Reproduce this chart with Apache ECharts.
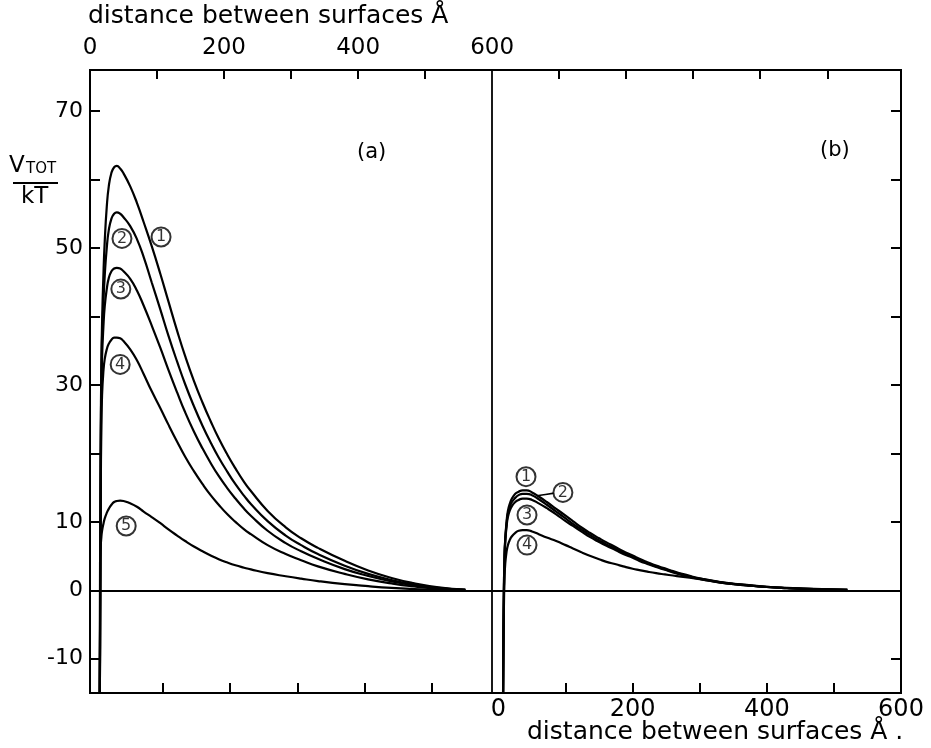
<!DOCTYPE html>
<html><head><meta charset="utf-8">
<script src="https://cdn.jsdelivr.net/npm/echarts@6/dist/echarts.min.js"></script>
<style>html,body{margin:0;padding:0;background:#fff}#c{width:931px;height:748px}</style>
</head><body><div id="c"></div>
<script>
// ---------- panel (a): distance (Å, top axis) ----------
const distA = [14, 15, 16, 17, 18, 20, 22, 25, 28, 32, 36, 40, 45, 50, 60, 70, 80, 92, 105, 117, 130, 142, 155, 168, 180, 192, 205, 217, 230, 240, 265, 292, 315, 340, 380, 415, 450, 480, 520, 560];
const a1 = [-30, -8, 22, 33, 39, 46, 51, 56, 59, 61, 61.8, 62, 61.6, 60.9, 59.0, 56.6, 53.8, 50.3, 46.2, 42.2, 37.9, 34.2, 30.6, 27.4, 24.7, 22.2, 19.8, 17.8, 15.8, 14.5, 11.6, 9.2, 7.6, 6.2, 4.3, 2.9, 1.8, 1.1, 0.45, 0.1];
const a2 = [-30, -8, 20, 31, 37, 42, 46, 50, 52.6, 54.3, 55, 55.2, 55.0, 54.5, 53.2, 51.3, 48.7, 45.0, 41.0, 37.2, 33.4, 30.1, 26.9, 24.0, 21.6, 19.4, 17.3, 15.5, 13.8, 12.6, 10.1, 8.0, 6.6, 5.3, 3.6, 2.4, 1.5, 0.9, 0.35, 0.07];
const a3 = [-30, -8, 18, 29, 34, 38.5, 41.5, 44, 45.6, 46.6, 47, 47.1, 47.0, 46.6, 45.5, 43.8, 41.6, 38.7, 35.4, 32.2, 28.9, 26.0, 23.2, 20.7, 18.6, 16.7, 14.9, 13.4, 11.9, 10.9, 8.7, 6.9, 5.7, 4.6, 3.1, 2.1, 1.3, 0.8, 0.3, 0.05];
const a4 = [-30, -6, 14, 24, 28.5, 32, 33.8, 35.2, 36, 36.6, 36.9, 36.9, 36.8, 36.4, 35.2, 33.6, 31.6, 29.1, 26.6, 24.2, 21.7, 19.5, 17.4, 15.5, 13.9, 12.5, 11.1, 10.0, 8.9, 8.2, 6.6, 5.3, 4.4, 3.5, 2.4, 1.6, 1.0, 0.6, 0.22, 0.04];
const a5 = [-30, 4, 6.5, 7.8, 8.7, 9.7, 10.5, 11.3, 11.9, 12.5, 12.9, 13.05, 13.1, 13.05, 12.7, 12.2, 11.5, 10.7, 9.8, 8.9, 8.0, 7.2, 6.4, 5.7, 5.1, 4.55, 4.05, 3.65, 3.3, 3.05, 2.5, 2.05, 1.7, 1.35, 0.9, 0.6, 0.35, 0.2, 0.07, 0.01];

// ---------- panel (b): distance (Å, bottom axis) ----------
const distB = [6, 7, 8, 9, 10, 12, 14, 17, 20, 25, 30, 36, 42, 50, 60, 72, 86, 100, 111, 125, 136, 150, 161, 175, 186, 200, 210, 222, 235, 248, 260, 272, 285, 300, 314, 340, 370, 400, 430, 470, 520];
const b1 = [-30, -12, 0, 5, 7.5, 10, 11.6, 12.7, 13.4, 14.1, 14.4, 14.6, 14.6, 14.3, 13.7, 12.9, 11.9, 10.9, 10.1, 9.1, 8.4, 7.6, 7.0, 6.3, 5.7, 5.1, 4.6, 4.1, 3.6, 3.2, 2.8, 2.45, 2.1, 1.75, 1.5, 1.1, 0.78, 0.52, 0.36, 0.2, 0.08];
const b2 = [-30, -12, 0, 5, 7.3, 9.7, 11.2, 12.2, 12.9, 13.5, 13.9, 14.1, 14.1, 13.9, 13.3, 12.5, 11.5, 10.5, 9.7, 8.8, 8.1, 7.3, 6.7, 6.05, 5.5, 4.9, 4.45, 3.95, 3.5, 3.1, 2.7, 2.35, 2.02, 1.7, 1.45, 1.05, 0.75, 0.5, 0.34, 0.19, 0.07];
const b3 = [-30, -12, -1, 4.5, 7, 9.3, 10.7, 11.7, 12.3, 12.9, 13.2, 13.4, 13.4, 13.2, 12.7, 12.0, 11.1, 10.1, 9.4, 8.5, 7.8, 7.05, 6.5, 5.85, 5.3, 4.75, 4.3, 3.85, 3.4, 3.0, 2.62, 2.28, 1.96, 1.65, 1.4, 1.02, 0.72, 0.48, 0.33, 0.18, 0.07];
const b4 = [-30, -14, -3, 2, 3.8, 5.6, 6.6, 7.4, 7.9, 8.4, 8.7, 8.8, 8.8, 8.6, 8.2, 7.7, 7.2, 6.6, 6.1, 5.5, 5.05, 4.55, 4.15, 3.8, 3.5, 3.15, 2.95, 2.72, 2.5, 2.32, 2.16, 2.0, 1.83, 1.62, 1.42, 1.02, 0.72, 0.48, 0.33, 0.18, 0.07];

// ---------- axes ticks / labels ----------
const topTicks = [100, 200, 300, 400, 500, 700, 800, 900, 1000, 1100];
const topTickLabels = [0, 200, 400, 600];
const bottomTicks = [-500, -400, -300, -200, -100, 100, 200, 300, 400, 500];
const bottomTickLabels = [0, 200, 400, 600];
const yTicks = [-10, 10, 20, 30, 40, 50, 60, 70];
const yTickLabels = [-10, 0, 10, 30, 50, 70];
const dividerAt = [600];

// ---------- annotations (circled curve numbers) ----------
const annotA = [[106, 51.6, '1'], [47.7, 51.4, '2'], [46, 44.0, '3'], [45, 33.0, '4'], [54, 9.4, '5']];
const annotB = [[41, 16.6, '1'], [96, 14.3, '2'], [42.5, 11.0, '3'], [42.5, 6.6, '4']];
const leaderB = [[83, 14.2], [70, 14.0], [57, 13.8]];

const FONT = 'DejaVu Sans';
const zip = (xs, ys) => xs.map((x, i) => [x, ys[i]]);
const Y_MIN = -15, Y_MAX = 76;

const lineSeries = (data, xi, yi) => ({
  type: 'line', xAxisIndex: xi, yAxisIndex: yi, data: data,
  showSymbol: false, smooth: 0.5, silent: true,
  lineStyle: { color: '#000', width: 2.2 }
});
const annotSeries = (list, xi, yi) => ({
  type: 'scatter', xAxisIndex: xi, yAxisIndex: yi, symbol: 'circle', symbolSize: 19, silent: true, z: 5,
  itemStyle: { color: '#fff', borderColor: '#000', borderWidth: 2 },
  data: list.map(d => ({ value: [d[0], d[1]], name: d[2] })),
  label: { show: true, position: 'inside', formatter: p => p.name, fontSize: 16, color: '#000', fontFamily: FONT }
});

const chart = echarts.init(document.getElementById('c'), null, { renderer: 'canvas' });
const option = {
  animation: false,
  backgroundColor: '#fff',
  grid: [
    { left: 90, right: 30, top: 70, bottom: 55, show: true, borderColor: '#000', borderWidth: 2, backgroundColor: 'transparent' },
    { left: 96, right: 30, top: 70, bottom: 55, show: false }
  ],
  xAxis: [
    { type: 'value', gridIndex: 0, position: 'top', min: 0, max: 1210,
      axisLine: { show: false, onZero: false }, splitLine: { show: false },
      axisTick: { show: true, inside: true, length: 9, customValues: topTicks, lineStyle: { color: '#000', width: 2 } },
      axisLabel: { show: true, customValues: topTickLabels, fontSize: 23, color: '#000', fontFamily: FONT, margin: 10 } },
    { type: 'value', gridIndex: 1, position: 'bottom', min: -600, max: 600,
      axisLine: { show: false, onZero: false }, splitLine: { show: false },
      axisTick: { show: true, inside: true, length: 10, customValues: bottomTicks, lineStyle: { color: '#000', width: 2 } },
      axisLabel: { show: true, customValues: bottomTickLabels, fontSize: 24, color: '#000', fontFamily: FONT, margin: 5 } }
  ],
  yAxis: [
    { type: 'value', gridIndex: 0, position: 'left', min: Y_MIN, max: Y_MAX,
      axisLine: { show: false, onZero: false }, splitLine: { show: false },
      axisTick: { show: true, inside: true, length: 10, customValues: yTicks, lineStyle: { color: '#000', width: 2 } },
      axisLabel: { show: true, customValues: yTickLabels, fontSize: 22, color: '#000', fontFamily: FONT, margin: 7 } },
    { type: 'value', gridIndex: 0, position: 'right', min: Y_MIN, max: Y_MAX,
      axisLine: { show: false, onZero: false }, splitLine: { show: false },
      axisTick: { show: true, inside: true, length: 10, customValues: yTicks, lineStyle: { color: '#000', width: 2 } },
      axisLabel: { show: false } },
    { type: 'value', gridIndex: 1, min: Y_MIN, max: Y_MAX, show: false }
  ],
  series: [
    Object.assign(lineSeries(zip(distA, a1), 0, 0), {
      markLine: { silent: true, symbol: ['none', 'none'], label: { show: false }, animation: false,
        lineStyle: { color: '#000', width: 1.8, type: 'solid' },
        data: [{ yAxis: 0 }].concat(dividerAt.map(v => ({ xAxis: v }))) }
    }),
    lineSeries(zip(distA, a2), 0, 0),
    lineSeries(zip(distA, a3), 0, 0),
    lineSeries(zip(distA, a4), 0, 0),
    lineSeries(zip(distA, a5), 0, 0),
    lineSeries(zip(distB, b1), 1, 2),
    lineSeries(zip(distB, b2), 1, 2),
    lineSeries(zip(distB, b3), 1, 2),
    lineSeries(zip(distB, b4), 1, 2),
    { type: 'line', xAxisIndex: 1, yAxisIndex: 2, data: leaderB, showSymbol: false, smooth: true, silent: true,
      lineStyle: { color: '#000', width: 1.6 } },
    annotSeries(annotA, 0, 0),
    annotSeries(annotB, 1, 2)
  ],
  graphic: [
    { type: 'text', left: 88, top: 4, style: { text: 'distance between surfaces Å', font: '25px "DejaVu Sans"', fill: '#000' } },
    { type: 'text', left: 527, top: 720, style: { text: 'distance between surfaces Å .', font: '25px "DejaVu Sans"', fill: '#000' } },
    { type: 'text', left: 357, top: 142, style: { text: '(a)', font: '21px "DejaVu Sans"', fill: '#000' } },
    { type: 'text', left: 820, top: 140, style: { text: '(b)', font: '21px "DejaVu Sans"', fill: '#000' } },
    { type: 'text', left: 9, top: 155, style: { text: 'V', font: '23px "DejaVu Sans"', fill: '#000' } },
    { type: 'text', left: 26, top: 162, style: { text: 'TOT', font: '15px "DejaVu Sans"', fill: '#000' } },
    { type: 'line', shape: { x1: 13, y1: 183, x2: 58, y2: 183 }, style: { stroke: '#000', lineWidth: 2 } },
    { type: 'text', left: 21, top: 186, style: { text: 'kT', font: '23px "DejaVu Sans"', fill: '#000' } }
  ]
};
chart.setOption(option);
</script>
</body></html>
